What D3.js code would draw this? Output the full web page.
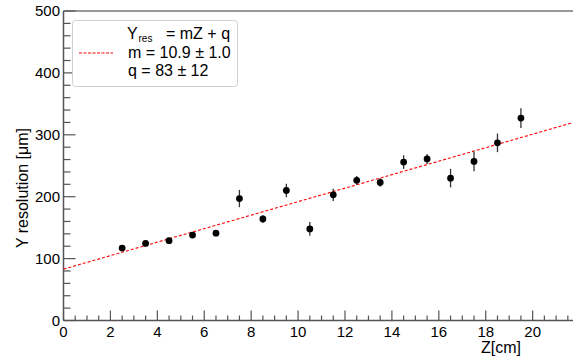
<!DOCTYPE html>
<html><head><meta charset="utf-8">
<script src="https://cdn.jsdelivr.net/npm/d3@7"></script>
<style>
html,body{margin:0;padding:0;background:#fff;}
svg text{font-family:"Liberation Sans",Arial,Helvetica,sans-serif;fill:#000;}
</style></head>
<body><svg id="c" width="573" height="358"></svg>
<script>
// Data
const zValues = [2.5,3.5,4.5,5.5,6.5,7.5,8.5,9.5,10.5,11.5,12.5,13.5,14.5,15.5,16.5,17.5,18.5,19.5];
const yRes    = [117,124.5,129,138,141,197,164,210,148,203,226.5,223,256,261,230,257,287,327];
const yErr    = [3,3,3,3.5,4,14,6,11,11,10,7,7,11,8,15,16,15,16];
const fitM = 10.9, fitQ = 83;
const xTicks = [0,2,4,6,8,10,12,14,16,18,20];
const yTicks = [0,100,200,300,400,500];
const legendLines = ["m = 10.9 \u00b1 1.0", "q = 83 \u00b1 12"];

const svg = d3.select("#c");
const x = d3.scaleLinear().domain([0,21.72]).range([63.5,573]);
const y = d3.scaleLinear().domain([0,500]).range([320.5,11]);
const axisCol = "#555";

// top frame
svg.append("line").attr("x1",x(0)).attr("x2",573).attr("y1",y(500)).attr("y2",y(500))
  .attr("stroke","#333").attr("stroke-width",1.1);

// minor ticks
const xMinor = d3.range(0,21.72,0.5);
svg.append("g").selectAll("line").data(xMinor).join("line")
  .attr("x1",d=>x(d)).attr("x2",d=>x(d)).attr("y1",y(0)).attr("y2",d=> (d%2===0)? y(0)-10 : y(0)-5)
  .attr("stroke",axisCol).attr("stroke-width",1.2);
const yMinor = d3.range(0,501,20);
svg.append("g").selectAll("line").data(yMinor).join("line")
  .attr("y1",d=>y(d)).attr("y2",d=>y(d)).attr("x1",x(0)).attr("x2",d=> (d%100===0)? x(0)+12 : x(0)+7)
  .attr("stroke",axisCol).attr("stroke-width",1.2);

// axis lines
svg.append("line").attr("x1",x(0)).attr("x2",573).attr("y1",y(0)).attr("y2",y(0)).attr("stroke",axisCol).attr("stroke-width",1.5);
svg.append("line").attr("x1",x(0)).attr("x2",x(0)).attr("y1",y(0)).attr("y2",y(500)).attr("stroke",axisCol).attr("stroke-width",1.5);

// tick labels
svg.append("g").selectAll("text").data(xTicks).join("text")
  .attr("x",d=>x(d)).attr("y",337).attr("text-anchor","middle").attr("font-size",15).text(d=>d);
svg.append("g").selectAll("text").data(yTicks).join("text")
  .attr("x",60).attr("y",d=>y(d)+5.3).attr("text-anchor","end").attr("font-size",15).text(d=>d);

// axis titles
svg.append("text").attr("x",521).attr("y",353).attr("text-anchor","end").attr("font-size",16).text("Z[cm]");
svg.append("text").attr("transform","translate(28,128) rotate(-90)").attr("text-anchor","end")
  .attr("font-size",16).text("Y resolution [\u03bcm]");

// fit line
svg.append("line").attr("x1",x(0)).attr("y1",y(fitQ)).attr("x2",x(21.72)).attr("y2",y(fitQ+fitM*21.72))
  .attr("stroke","#ff0000").attr("stroke-width",1.1).attr("stroke-dasharray","3,2");

// error bars
const pts = zValues.map((z,i)=>({z, v:yRes[i], e:yErr[i]}));
svg.append("g").selectAll("line").data(pts).join("line")
  .attr("x1",d=>x(d.z)).attr("x2",d=>x(d.z)).attr("y1",d=>y(d.v-d.e)).attr("y2",d=>y(d.v+d.e))
  .attr("stroke","#333").attr("stroke-width",1.3);
svg.append("g").selectAll("circle").data(pts).join("circle")
  .attr("cx",d=>x(d.z)).attr("cy",d=>y(d.v)).attr("r",3.4).attr("fill","#000");

// legend
const lg = svg.append("g");
lg.append("rect").attr("x",72.5).attr("y",20.5).attr("width",165).attr("height",66).attr("rx",3)
  .attr("fill","#fff").attr("stroke","#d0d0d0").attr("stroke-width",1);
lg.append("line").attr("x1",79).attr("x2",113).attr("y1",53).attr("y2",53)
  .attr("stroke","#ff0000").attr("stroke-width",1.2).attr("stroke-dasharray","3,1.5");
lg.append("text").attr("x",127).attr("y",38.5).attr("font-size",16).text("Y");
lg.append("text").attr("x",138.5).attr("y",42).attr("font-size",10).text("res");
lg.append("text").attr("x",166).attr("y",38.5).attr("font-size",16).text("= mZ + q");
lg.selectAll("text.l").data(legendLines).join("text").attr("class","l")
  .attr("x",128).attr("y",(d,i)=>57.5+i*18.3).attr("font-size",16).text(d=>d);
</script></body></html>
